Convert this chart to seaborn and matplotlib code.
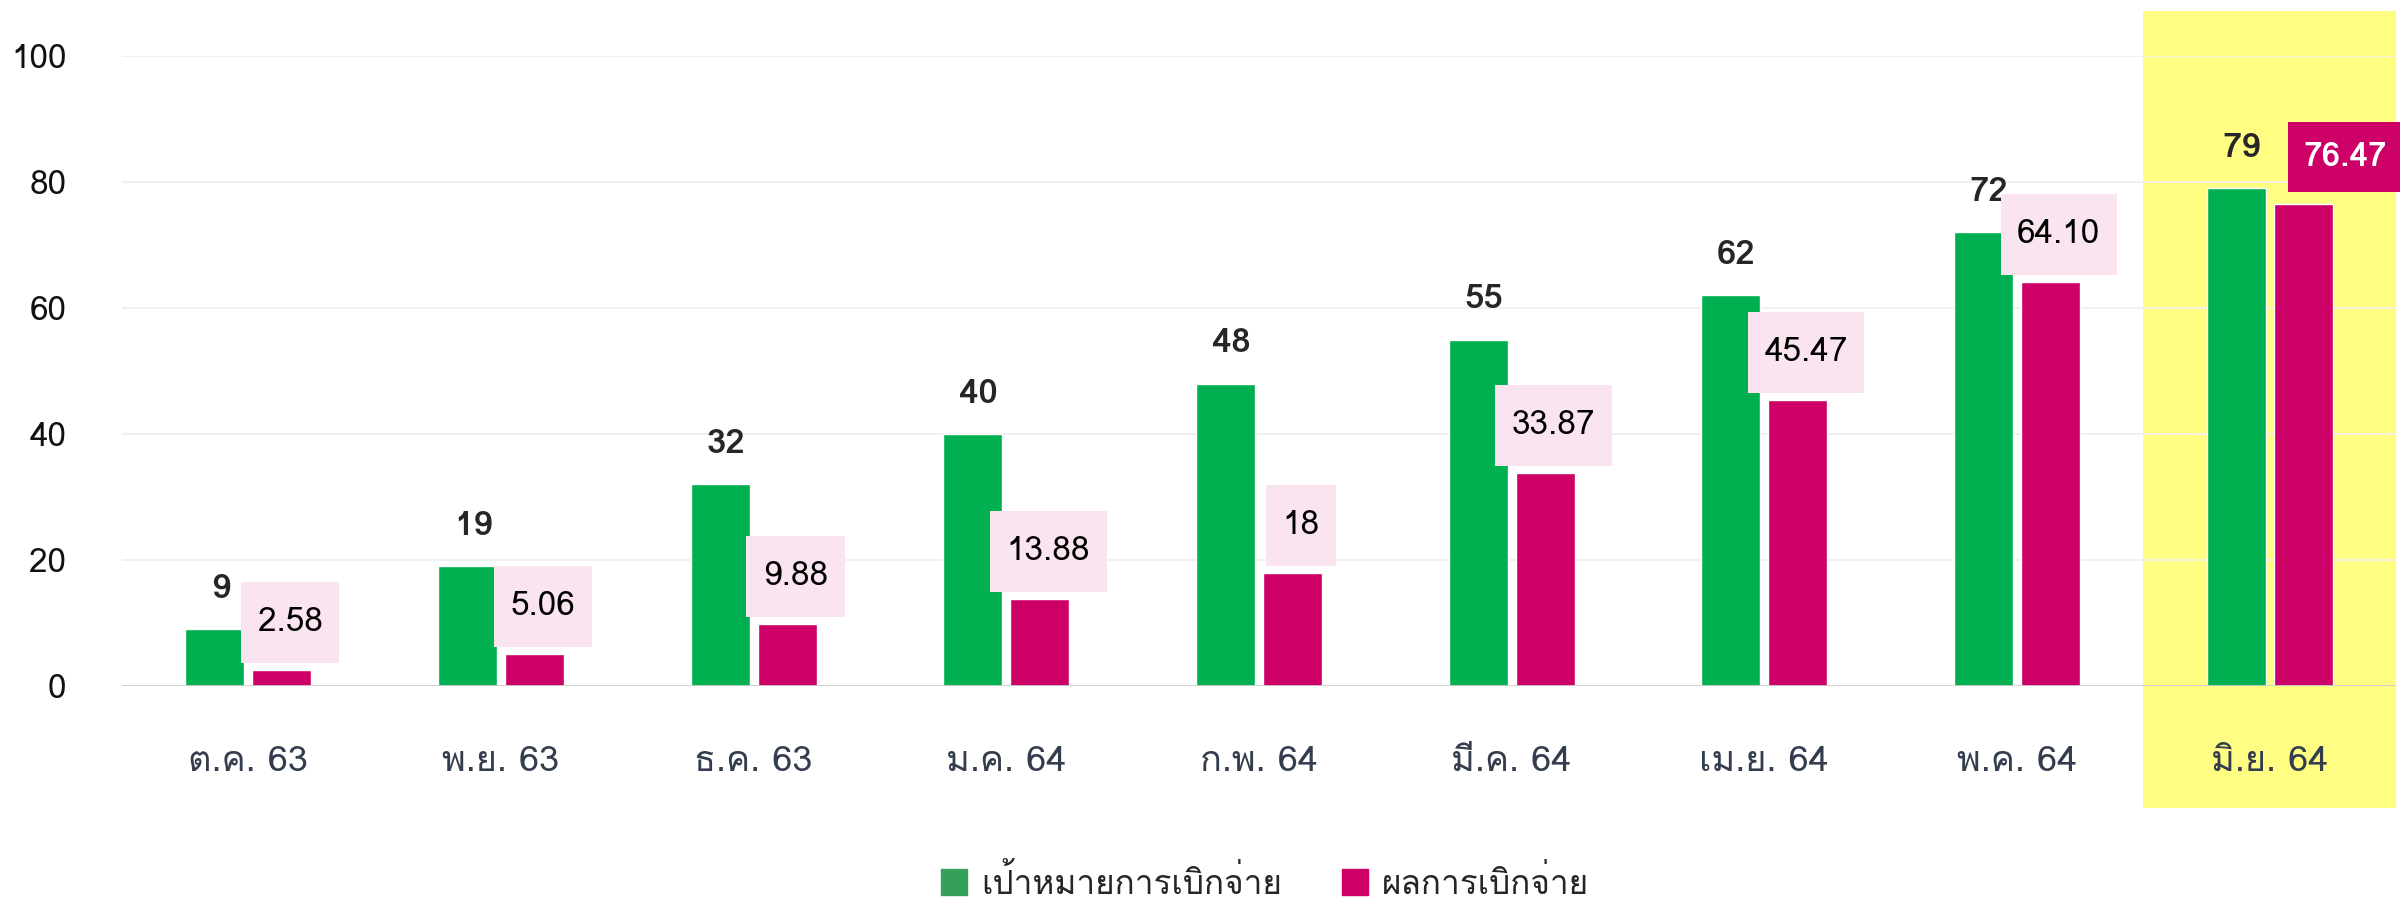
import matplotlib
matplotlib.use('Agg')
import matplotlib.pyplot as plt
import matplotlib.patches as mpatches
from matplotlib.path import Path
from matplotlib import font_manager, ft2font
import seaborn as sns
import pandas as pd

# data
months = ['ต.ค. 63', 'พ.ย. 63', 'ธ.ค. 63', 'ม.ค. 64', 'ก.พ. 64',
          'มี.ค. 64', 'เม.ย. 64', 'พ.ค. 64', 'มิ.ย. 64']
target = [9, 19, 32, 40, 48, 55, 62, 72, 79]
actual = [2.58, 5.06, 9.88, 13.88, 18, 33.87, 45.47, 64.10, 76.47]
series_names = ['เป้าหมายการเบิกจ่าย', 'ผลการเบิกจ่าย']
highlight_month = 'มิ.ย. 64'

GREEN = '#00b050'
LEGEND_GREEN = '#35a05a'
MAGENTA = '#cc0066'
PINK_BOX = '#f9e4ef'
YELLOW = '#fffd82'


def find_thai_font():
    # look for any installed font that covers Thai
    for f in font_manager.fontManager.ttflist:
        try:
            if ord('ก') in ft2font.FT2Font(f.fname).get_charmap():
                return f.name
        except Exception:
            pass
    return None


class LabelBox:
    """Rectangle with separate horizontal / vertical padding (in fontsize units)."""
    def __init__(self, padx, pady):
        self.padx, self.pady = padx, pady

    def __call__(self, x0, y0, width, height, mutation_size):
        px, py = self.padx * mutation_size, self.pady * mutation_size
        x0, y0 = x0 - px, y0 - py
        x1, y1 = x0 + width + 2 * px, y0 + height + 2 * py
        return Path([(x0, y0), (x1, y0), (x1, y1), (x0, y1), (x0, y0)],
                    closed=True)


sns.set_style('white')
thai = find_thai_font()
plt.rcParams['font.family'] = [thai, 'DejaVu Sans'] if thai else ['DejaVu Sans']

df = pd.DataFrame({
    'month': months * 2,
    'value': target + actual,
    'series': [series_names[0]] * len(months) + [series_names[1]] * len(months),
})

fig = plt.figure(figsize=(24, 9.1), dpi=100)
ax = fig.add_axes([122 / 2400, 1 - 686 / 910, 2274 / 2400, 630 / 910])

sns.barplot(data=df, x='month', y='value', hue='series', palette=[GREEN, MAGENTA],
            width=0.53, gap=0.12, saturation=1, legend=False, ax=ax, zorder=2)

ax.set_ylim(0, 100)
ax.set_xlim(-0.5, len(months) - 0.5)
ax.set_yticks(range(0, 101, 20))
ax.set_axisbelow(True)
ax.yaxis.grid(True, color='#eeeeee', linewidth=1.2)
ax.axhline(0, color='#cccccc', linewidth=2, zorder=3)
sns.despine(ax=ax, left=True, bottom=True)
ax.set_xlabel('')
ax.set_ylabel('')
ax.tick_params(axis='y', length=0, pad=40, labelsize=24, labelcolor='#111111')
ax.tick_params(axis='x', length=0, pad=43, labelsize=26, labelcolor='#333d4d')

# highlighted month
hi = months.index(highlight_month)
ax.add_patch(mpatches.Rectangle((hi - 0.5, -19.4), 1, 126.6, facecolor=YELLOW,
                                edgecolor='none', clip_on=False, zorder=0.1))

# value labels
for bar, v in zip(ax.containers[0], target):
    ax.annotate(f'{v}', (bar.get_x() + bar.get_width() / 2, v),
                xytext=(4, 29), textcoords='offset points',
                ha='center', va='center', fontsize=25, fontweight='bold', zorder=5)

for i, (bar, v) in enumerate(zip(ax.containers[1], actual)):
    label = f'{v:.2f}' if v != int(v) else f'{int(v)}'
    if months[i] == highlight_month:
        box = dict(boxstyle=LabelBox(0.45, 0.6), facecolor=MAGENTA, edgecolor='none')
        color, weight, dx = 'white', 'bold', 30
    else:
        box = dict(boxstyle=LabelBox(0.5, 0.75), facecolor=PINK_BOX, edgecolor='none')
        color, weight, dx = 'black', 'normal', 6
    ax.annotate(label, (bar.get_x() + bar.get_width() / 2, v),
                xytext=(dx, 34), textcoords='offset points',
                ha='center', va='center', fontsize=24, color=color,
                fontweight=weight, bbox=box, zorder=5)

handles = [mpatches.Patch(color=LEGEND_GREEN, label=series_names[0]),
           mpatches.Patch(color=MAGENTA, label=series_names[1])]
fig.legend(handles=handles, loc='center', bbox_to_anchor=(0.527, 0.03), ncol=2,
           frameon=False, fontsize=24, handlelength=0.8, handleheight=0.8,
           handletextpad=0.4, columnspacing=1.8)

plt.savefig('out.png', dpi=100)
plt.close()
